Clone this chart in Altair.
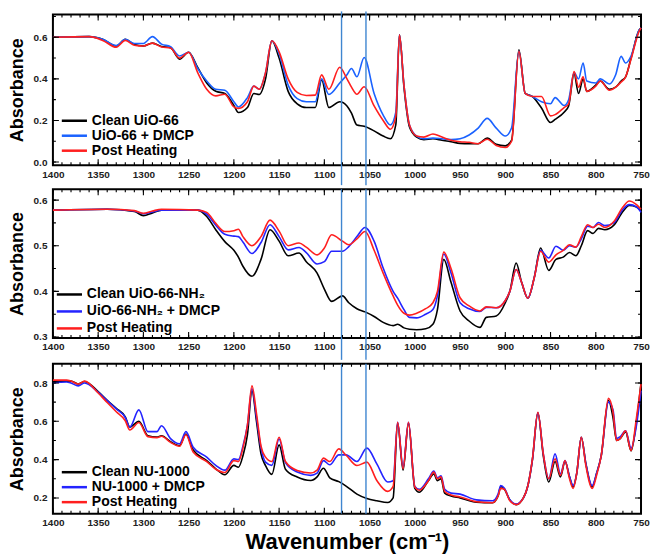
import altair as alt
import pandas as pd

FONT = "Liberation Sans"
W = 589

X_MAJOR = [1400, 1350, 1300, 1250, 1200, 1150, 1100, 1050, 1000, 950, 900, 850, 800, 750]
X_MINOR = list(range(750, 1401, 10))
MARKERS = [1081, 1054]
RULE_COLOR = "#3f86d0"

# ---------------- Panel 1: UiO-66 ----------------
P1_LABELS = ["Clean UiO-66", "UiO-66 + DMCP", "Post Heating"]
P1_COLORS = ["#000000", "#1a62ff", "#ff1f1f"]
P1_WN = [1400, 1360, 1345, 1330, 1320, 1310, 1300, 1290, 1280, 1270,
         1260, 1250, 1240, 1230, 1220, 1210, 1200, 1195, 1185, 1178,
         1172, 1165, 1158, 1150, 1140, 1130, 1120, 1110, 1103, 1095,
         1083, 1075, 1070, 1064, 1056, 1045, 1035, 1027, 1021, 1017,
         1012, 1006, 998, 990, 980, 970, 960, 950, 940, 930,
         920, 910, 900, 893, 885, 878, 870, 860, 850, 845,
         835, 830, 824, 819, 814, 810, 800, 795, 785, 778,
         772, 767, 761, 752, 750]
P1_CLEAN = [0.600, 0.603, 0.59, 0.558, 0.59, 0.565, 0.558, 0.572, 0.556, 0.55,
            0.495, 0.528, 0.455, 0.38, 0.34, 0.33, 0.272, 0.238, 0.262, 0.33,
            0.325, 0.40, 0.583, 0.50, 0.34, 0.28, 0.262, 0.262, 0.395, 0.262,
            0.29, 0.27, 0.235, 0.178, 0.172, 0.15, 0.125, 0.112, 0.18, 0.612,
            0.36, 0.17, 0.12, 0.108, 0.112, 0.105, 0.098, 0.09, 0.088, 0.088,
            0.115, 0.085, 0.078, 0.105, 0.54, 0.33, 0.315, 0.26, 0.19, 0.205,
            0.24, 0.27, 0.425, 0.33, 0.40, 0.34, 0.37, 0.39, 0.35, 0.36,
            0.39, 0.41, 0.50, 0.635, 0.645]
P1_DMCP = [0.600, 0.603, 0.59, 0.56, 0.59, 0.57, 0.57, 0.603, 0.567, 0.555,
           0.51, 0.528, 0.45, 0.39, 0.35, 0.345, 0.29, 0.265, 0.31, 0.365,
           0.35, 0.43, 0.583, 0.52, 0.37, 0.305, 0.29, 0.29, 0.40, 0.325,
           0.38, 0.42, 0.45, 0.41, 0.503, 0.33, 0.226, 0.178, 0.24, 0.612,
           0.37, 0.18, 0.125, 0.112, 0.115, 0.112, 0.108, 0.112, 0.13, 0.163,
           0.21, 0.163, 0.125, 0.165, 0.532, 0.33, 0.315, 0.29, 0.28, 0.31,
           0.272, 0.30, 0.43, 0.40, 0.476, 0.39, 0.38, 0.40, 0.375, 0.42,
           0.508, 0.476, 0.51, 0.635, 0.645]
P1_HEAT = [0.600, 0.603, 0.585, 0.552, 0.585, 0.562, 0.558, 0.572, 0.553, 0.548,
           0.50, 0.528, 0.43, 0.35, 0.318, 0.326, 0.265, 0.258, 0.29, 0.365,
           0.35, 0.43, 0.583, 0.53, 0.40, 0.335, 0.32, 0.322, 0.419, 0.35,
           0.456, 0.40, 0.36, 0.326, 0.362, 0.27, 0.20, 0.158, 0.22, 0.612,
           0.37, 0.18, 0.125, 0.12, 0.135, 0.12, 0.105, 0.098, 0.095, 0.088,
           0.11, 0.08, 0.07, 0.10, 0.532, 0.33, 0.315, 0.315, 0.222, 0.228,
           0.262, 0.28, 0.435, 0.36, 0.41, 0.34, 0.365, 0.39, 0.345, 0.36,
           0.385, 0.41, 0.495, 0.63, 0.645]
P1_YMAJOR = [0.0, 0.2, 0.4, 0.6]
P1_YMINOR = [0.0, 0.1, 0.2, 0.3, 0.4, 0.5, 0.6, 0.7]

# ---------------- Panel 2: UiO-66-NH2 ----------------
P2_LABELS = ["Clean UiO-66-NH\u2082", "UiO-66-NH\u2082 + DMCP", "Post Heating"]
P2_COLORS = ["#000000", "#2424ff", "#ff1f1f"]
P2_WN = [1400, 1340, 1310, 1300, 1290, 1280, 1240, 1230, 1220, 1210,
         1200, 1195, 1190, 1180, 1170, 1160, 1150, 1140, 1128, 1120,
         1108, 1100, 1092, 1080, 1073, 1064, 1055, 1045, 1035, 1024,
         1019, 1012, 1006, 998, 988, 980, 975, 968, 960, 950,
         940, 928, 921, 910, 900, 895, 888, 882, 875, 868,
         861, 852, 844, 836, 829, 822, 816, 809, 803, 797,
         790, 780, 770, 763, 755, 750]
P2_CLEAN = [0.578, 0.58, 0.575, 0.566, 0.572, 0.578, 0.578, 0.564, 0.535, 0.509,
            0.49, 0.475, 0.455, 0.433, 0.47, 0.535, 0.51, 0.478, 0.484, 0.465,
            0.44, 0.405, 0.378, 0.39, 0.375, 0.362, 0.355, 0.345, 0.332, 0.325,
            0.328, 0.32, 0.317, 0.316, 0.318, 0.328, 0.36, 0.47, 0.42, 0.357,
            0.335, 0.321, 0.343, 0.346, 0.375, 0.40, 0.462, 0.42, 0.385, 0.43,
            0.495, 0.446, 0.47, 0.475, 0.485, 0.478, 0.50, 0.533, 0.527, 0.538,
            0.535, 0.545, 0.575, 0.588, 0.585, 0.576]
P2_DMCP = [0.578, 0.58, 0.576, 0.57, 0.574, 0.578, 0.578, 0.569, 0.545, 0.525,
           0.521, 0.52, 0.508, 0.483, 0.507, 0.546, 0.52, 0.491, 0.496, 0.485,
           0.46, 0.465, 0.488, 0.488, 0.498, 0.52, 0.54, 0.51, 0.451, 0.40,
           0.385, 0.36, 0.343, 0.342, 0.35, 0.36, 0.39, 0.482, 0.44, 0.375,
           0.362, 0.356, 0.365, 0.364, 0.38, 0.40, 0.448, 0.42, 0.385, 0.43,
           0.49, 0.473, 0.499, 0.49, 0.50, 0.497, 0.515, 0.543, 0.54, 0.551,
           0.544, 0.55, 0.58, 0.59, 0.585, 0.573]
P2_HEAT = [0.578, 0.58, 0.577, 0.571, 0.576, 0.58, 0.578, 0.573, 0.549, 0.531,
           0.533, 0.536, 0.52, 0.50, 0.52, 0.556, 0.532, 0.50, 0.506, 0.497,
           0.48, 0.495, 0.524, 0.51, 0.502, 0.515, 0.531, 0.49, 0.44, 0.39,
           0.37, 0.352, 0.348, 0.352, 0.362, 0.375, 0.40, 0.486, 0.45, 0.386,
           0.368, 0.357, 0.366, 0.364, 0.38, 0.40, 0.448, 0.42, 0.385, 0.43,
           0.488, 0.464, 0.48, 0.49, 0.502, 0.497, 0.52, 0.546, 0.54, 0.547,
           0.54, 0.553, 0.585, 0.598, 0.59, 0.58]
P2_YMAJOR = [0.3, 0.4, 0.5, 0.6]
P2_YMINOR = [0.3, 0.35, 0.4, 0.45, 0.5, 0.55, 0.6]

# ---------------- Panel 3: NU-1000 ----------------
P3_LABELS = ["Clean NU-1000", "NU-1000 + DMCP", "Post Heating"]
P3_COLORS = ["#000000", "#2424ff", "#ff1f1f"]
P3_WN = [1400, 1385, 1380, 1372, 1365, 1350, 1340, 1330, 1320, 1315,
         1305, 1295, 1285, 1280, 1270, 1260, 1253, 1245, 1230, 1220,
         1210, 1200, 1195, 1190, 1185, 1180, 1175, 1170, 1165, 1158,
         1150, 1143, 1130, 1115, 1108, 1101, 1094, 1084, 1076, 1064,
         1053, 1042, 1030, 1024, 1019, 1013, 1007, 1000, 995, 985,
         979, 975, 971, 967, 960, 950, 932, 914, 908, 905,
         901, 895, 888, 880, 875, 870, 864, 858, 852, 845,
         839, 834, 829, 825, 821, 816, 811, 804, 799, 794,
         786, 781, 777, 773, 767, 761, 755, 750]
P3_CLEAN = [0.81, 0.81, 0.81, 0.795, 0.808, 0.755, 0.71, 0.668, 0.623, 0.57,
            0.60, 0.525, 0.518, 0.525, 0.494, 0.473, 0.534, 0.45, 0.395, 0.352,
            0.321, 0.37, 0.36, 0.42, 0.53, 0.76, 0.60, 0.43, 0.369, 0.323,
            0.477, 0.35, 0.309, 0.291, 0.31, 0.355, 0.305, 0.285, 0.262, 0.22,
            0.197, 0.185, 0.176, 0.20, 0.59, 0.345, 0.59, 0.25, 0.23, 0.29,
            0.325, 0.29, 0.30, 0.225, 0.21, 0.2, 0.178, 0.175, 0.21, 0.26,
            0.245, 0.19, 0.165, 0.2, 0.265, 0.40, 0.645, 0.42, 0.283, 0.39,
            0.31, 0.39, 0.31, 0.257, 0.33, 0.517, 0.38, 0.257, 0.33, 0.42,
            0.71, 0.62, 0.50, 0.51, 0.545, 0.445, 0.6, 0.80]
P3_DMCP = [0.80, 0.805, 0.80, 0.785, 0.80, 0.752, 0.708, 0.665, 0.62, 0.57,
           0.66, 0.546, 0.546, 0.577, 0.51, 0.483, 0.546, 0.465, 0.413, 0.37,
           0.345, 0.404, 0.40, 0.47, 0.58, 0.77, 0.62, 0.46, 0.387, 0.37,
           0.508, 0.385, 0.335, 0.318, 0.33, 0.395, 0.373, 0.425, 0.425, 0.39,
           0.46, 0.378, 0.283, 0.29, 0.595, 0.36, 0.595, 0.26, 0.245, 0.30,
           0.34, 0.305, 0.315, 0.245, 0.225, 0.22, 0.19, 0.185, 0.22, 0.265,
           0.25, 0.19, 0.168, 0.2, 0.265, 0.40, 0.645, 0.43, 0.30, 0.43,
           0.325, 0.395, 0.31, 0.265, 0.33, 0.517, 0.38, 0.265, 0.33, 0.42,
           0.70, 0.66, 0.51, 0.52, 0.55, 0.46, 0.58, 0.76]
P3_HEAT = [0.815, 0.815, 0.81, 0.795, 0.81, 0.748, 0.698, 0.65, 0.603, 0.555,
           0.594, 0.52, 0.515, 0.522, 0.49, 0.47, 0.53, 0.44, 0.39, 0.35,
           0.333, 0.395, 0.39, 0.46, 0.58, 0.785, 0.64, 0.47, 0.413, 0.39,
           0.517, 0.39, 0.343, 0.33, 0.345, 0.408, 0.39, 0.456, 0.423, 0.369,
           0.387, 0.291, 0.234, 0.26, 0.595, 0.352, 0.595, 0.257, 0.24, 0.29,
           0.335, 0.30, 0.31, 0.234, 0.215, 0.205, 0.18, 0.175, 0.21, 0.25,
           0.245, 0.185, 0.165, 0.2, 0.265, 0.404, 0.647, 0.43, 0.30, 0.404,
           0.317, 0.395, 0.30, 0.25, 0.33, 0.517, 0.37, 0.25, 0.32, 0.42,
           0.72, 0.65, 0.50, 0.51, 0.55, 0.447, 0.62, 0.794]
P3_YMAJOR = [0.2, 0.4, 0.6, 0.8]
P3_YMINOR = [0.2, 0.3, 0.4, 0.5, 0.6, 0.7, 0.8]

# legend swatch: a horizontal stroke longer than the symbol's layout box
SWATCH = "M-2.1,0H2.1"


def make_panel(wn, series, labels, colors, ydom, ymajor, yminor, h,
               rule_y1, rule_y2, lx, ly, rowpad, xtitle=None):
    rows = []
    for lab, vals in zip(labels, series):
        for w, v in zip(wn, vals):
            rows.append({"wn": w, "A": v, "s": lab})
    df = pd.DataFrame(rows)
    xs = alt.Scale(domain=[1400, 750], nice=False, zero=False)
    ys = alt.Scale(domain=ydom, nice=False, zero=False)

    xkw = dict(orient="bottom", values=X_MAJOR, format="d", ticks=False, domain=False,
               grid=False, labelFont=FONT, labelFontWeight="bold", labelFontSize=10,
               labelColor="#222222", labelPadding=4, labelFlush=False, labelOverlap=False)
    if xtitle:
        xkw.update(title=xtitle, titleFont=FONT, titleFontSize=22, titleFontWeight="bold",
                   titleColor="black", titlePadding=4)
    else:
        xkw.update(title=None)
    yax = alt.Axis(orient="left", values=ymajor, format=".1f", ticks=False, domain=False,
                   grid=False, labelFont=FONT, labelFontWeight="bold", labelFontSize=10,
                   labelColor="#222222", labelPadding=6, labelFlush=False, labelOverlap=False,
                   title="Absorbance", titleFont=FONT, titleFontSize=18, titleFontWeight="bold",
                   titleColor="black", titlePadding=7)

    legend = alt.Legend(orient="none", legendX=lx, legendY=ly, title=None, offset=0,
                        symbolType=SWATCH, symbolStrokeWidth=2.5, symbolSize=144,
                        labelFont=FONT, labelFontSize=14, labelFontWeight="bold",
                        labelColor="black", rowPadding=rowpad, padding=0, labelOffset=10)

    lines = alt.Chart(df).mark_line(strokeWidth=1.6, interpolate="monotone").encode(
        x=alt.X("wn:Q", scale=xs, axis=alt.Axis(**xkw)),
        y=alt.Y("A:Q", scale=ys, axis=yax),
        color=alt.Color("s:N", scale=alt.Scale(domain=labels, range=colors), legend=legend),
        order=alt.Order("wn:Q", sort="descending"),
    )
    markers = alt.Chart(pd.DataFrame({"wn": MARKERS})).mark_rule(
        color=RULE_COLOR, strokeWidth=1.4).encode(
        x=alt.X("wn:Q", scale=xs, axis=None),
        y=alt.value(rule_y1), y2=alt.value(rule_y2),
    )

    # inward ticks on all four sides (dash pattern keeps only both ends of each rule)
    def xticks(values, length):
        return alt.Chart(pd.DataFrame({"t": values})).mark_rule(
            color="black", strokeWidth=1.1, strokeDash=[length, h - 2 * length]).encode(
            x=alt.X("t:Q", scale=xs, axis=None),
            y=alt.value(0), y2=alt.value(h),
        )

    def yticks(values, length):
        return alt.Chart(pd.DataFrame({"t": values})).mark_rule(
            color="black", strokeWidth=1.1, strokeDash=[length, W - 2 * length]).encode(
            y=alt.Y("t:Q", scale=ys, axis=None),
            x=alt.value(0), x2=alt.value(W),
        )

    return alt.layer(
        lines, markers,
        xticks(X_MAJOR, 6), xticks(X_MINOR, 3),
        yticks(ymajor, 6), yticks(yminor, 3),
    ).resolve_axis(x="independent", y="independent").properties(width=W, height=h)


H1, H2, H3 = 151, 149, 150
p1 = make_panel(P1_WN, [P1_CLEAN, P1_DMCP, P1_HEAT], P1_LABELS, P1_COLORS,
                [-0.015, 0.71], P1_YMAJOR, P1_YMINOR, H1, -3, H1 + 20, 14, 99, 0)
p2 = make_panel(P2_WN, [P2_CLEAN, P2_DMCP, P2_HEAT], P2_LABELS, P2_COLORS,
                [0.298, 0.624], P2_YMAJOR, P2_YMINOR, H2, 0, H2 + 22, 9, 98, 2)
p3 = make_panel(P3_WN, [P3_CLEAN, P3_DMCP, P3_HEAT], P3_LABELS, P3_COLORS,
                [0.118, 0.9], P3_YMAJOR, P3_YMINOR, H3, 0, H3, 14, 101, 0,
                xtitle="Wavenumber (cm\u207b\u00b9)")

chart = alt.vconcat(p1, p2, p3, spacing=0).resolve_scale(
    x="independent", y="independent", color="independent"
).properties(
    padding={"left": 7, "top": 9, "right": 0, "bottom": 0}, background="white"
).configure_view(stroke="black", strokeWidth=2)

chart.save("out.html", embed_options={"renderer": "svg", "actions": False})
